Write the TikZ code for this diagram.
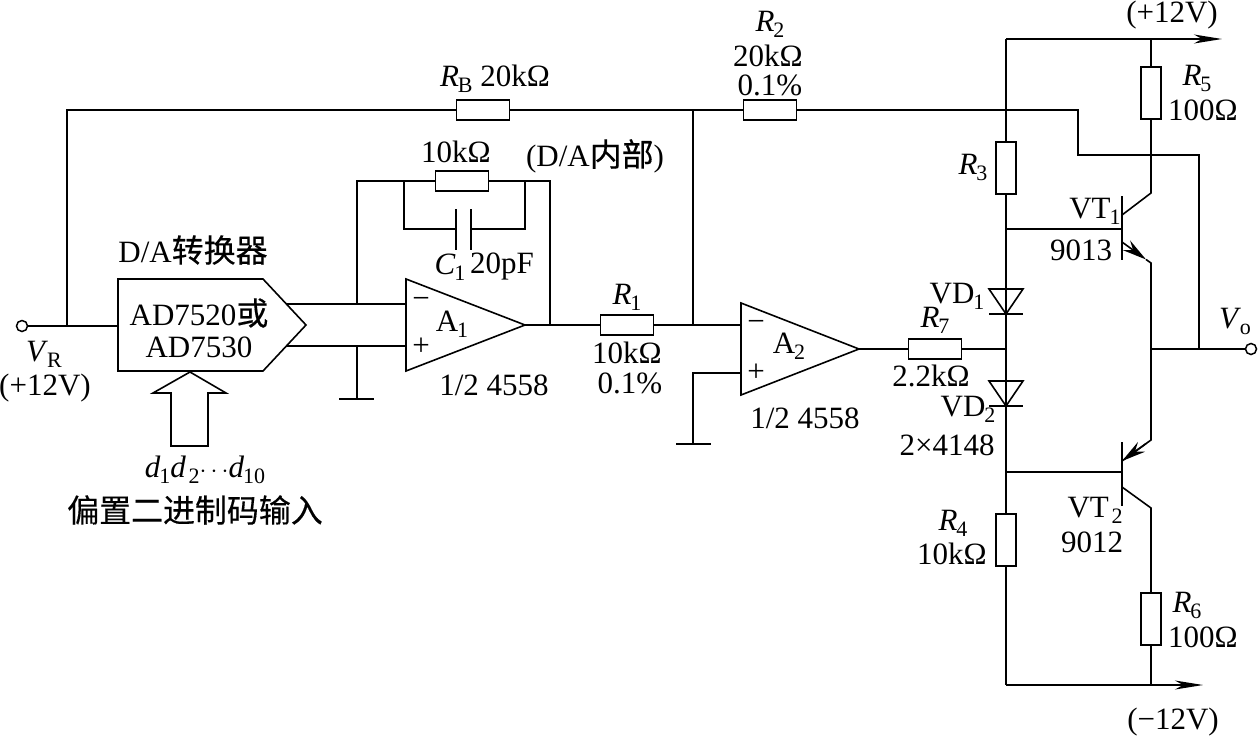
\documentclass[tikz,border=0pt]{standalone}
\usepackage{fontspec}
\setmainfont{Liberation Serif}
\newfontfamily\cjk[Scale=1.03,FakeBold=0.4]{Noto Sans CJK SC}
\usetikzlibrary{arrows.meta}
\newcommand{\Sb}[2]{\textit{#1}\kern-1pt\raisebox{-6pt}{\fontsize{22}{23}\selectfont #2}}
\newcommand{\Rb}[2]{#1\kern-1pt\raisebox{-6pt}{\fontsize{22}{23}\selectfont #2}}
\tikzset{
  wire/.style={line width=1.6pt,line join=miter},
  hres/.style={draw,line width=1.3pt,rectangle,inner sep=0pt,minimum width=53pt,minimum height=20pt},
  vres/.style={draw,line width=1.3pt,rectangle,inner sep=0pt,minimum width=20pt,minimum height=52pt},
  term/.style={draw,line width=1.5pt,circle,inner sep=0pt,minimum size=11pt,fill=white},
  lab/.style={inner sep=0pt,font=\fontsize{31}{32}\selectfont},
  rail/.style={wire,-{Stealth[length=28pt,width=9pt,inset=8pt]}},
  emit/.style={wire,-{Stealth[length=24pt,width=12pt,inset=8pt]}},
}
\begin{document}
\begin{tikzpicture}[x=1pt,y=-1pt]
\useasboundingbox (0,0) rectangle (1258,739);
% resistors
\node[hres] (rb) at (483,110) {};
\node[hres] (r2) at (770,110) {};
\node[hres] (rf) at (462,181) {};
\node[hres] (r1) at (627,325) {};
\node[hres] (r7) at (935,349) {};
\node[vres] (r3) at (1006,168) {};
\node[vres] (r5) at (1151,93) {};
\node[vres] (r4) at (1006,540) {};
\node[vres] (r6) at (1151,619) {};
\node[term] (vr) at (22,326) {};
\node[term] (vo) at (1251,349) {};
% junctions
\coordinate (j67a) at (67,326);
\coordinate (j67b) at (67,110);
\coordinate (j693) at (693,110);
\coordinate (j693b) at (693,325);
\coordinate (topl) at (1006,39);
\coordinate (topr) at (1222,39);
\coordinate (j1151t) at (1151,39);
\coordinate (botl) at (1006,685);
\coordinate (botr) at (1203,685);
\coordinate (j1151b) at (1151,685);
% D/A
\coordinate (da1) at (118,279);
\coordinate (da2) at (263,279);
\coordinate (da3) at (306,325);
\coordinate (da4) at (263,371);
\coordinate (da5) at (118,371);
\coordinate (daoa) at (287,304);
\coordinate (daob) at (287,346);
\draw[wire] (da1)--(da2)--(da3)--(da4)--(da5)--cycle;
% big arrow
\draw[wire] (190,372)--(226,393)--(208,393)--(208,446)--(171,446)--(171,393)--(153,393)--cycle;
% op amps
\coordinate (a1t) at (406,279);
\coordinate (a1b) at (406,371);
\coordinate (a1o) at (525,325);
\coordinate (a1m) at (406,304);
\coordinate (a1p) at (406,346);
\draw[wire] (a1t)--(a1o)--(a1b)--cycle;
\coordinate (a2t) at (741,303);
\coordinate (a2b) at (741,395);
\coordinate (a2o) at (859,349);
\coordinate (a2m) at (741,325);
\coordinate (a2p) at (741,373);
\draw[wire] (a2t)--(a2o)--(a2b)--cycle;
% left wiring
\draw[wire] (vr)--(j67a)--(118,326);
\draw[wire] (j67a)--(j67b)--(rb.west);
\draw[wire] (rb.east)--(j693)--(r2.west);
\draw[wire] (r2.east)--(1078,110)--(1078,155)--(1199,155)--(1199,349);
\draw[wire] (j693)--(j693b);
\draw[wire] (daoa)--(a1m);
\draw[wire] (daob)--(a1p);
\draw[wire] (357,304)--(357,181)--(rf.west);
\draw[wire] (rf.east)--(550,181)--(550,325);
\draw[wire] (357,346)--(357,399);
\draw[wire] (339,399)--(374,399);
% capacitor
\draw[wire] (404,181)--(404,229)--(456,229);
\draw[wire] (471,229)--(525,229)--(525,181);
\draw[wire] (456,209)--(456,250);
\draw[wire] (471,209)--(471,250);
% middle
\draw[wire] (a1o)--(r1.west);
\draw[wire] (r1.east)--(a2m);
\draw[wire] (a2p)--(693,373)--(693,444);
\draw[wire] (676,444)--(711,444);
\draw[wire] (a2o)--(r7.west);
\draw[wire] (r7.east)--(1006,349);
% supply column
\draw[rail] (topl)--(topr);
\draw[wire] (topl)--(r3.north);
\draw[wire] (r3.south)--(r4.north);
\draw[wire] (r4.south)--(botl);
\draw[rail] (botl)--(botr);
\draw[wire] (j1151t)--(r5.north);
\draw[wire] (r5.south)--(1151,193)--(1122,215);
\draw[wire] (1006,229)--(1122,229);
\draw[wire] (1122,196)--(1122,260);
\draw[emit] (1122,242)--(1146,259.5);
\draw[wire] (1146,259.5)--(1151,263)--(1151,440)--(1122,461);
\draw[emit] (1146,443.6)--(1122,461);
\draw[wire] (1122,442)--(1122,506);
\draw[wire] (1006,472)--(1122,472);
\draw[wire] (1122,487)--(1151,508)--(r6.north);
\draw[wire] (r6.south)--(j1151b);
\draw[wire] (1151,349)--(vo);
% diodes
\draw[wire] (989,289)--(1023,289)--(1006,314)--cycle;
\draw[wire] (989,314)--(1023,314);
\draw[wire] (989,381)--(1023,381)--(1006,406)--cycle;
\draw[wire] (989,406)--(1023,406);
% labels
\node[lab] (t1) at (1172,15) {(+12V)};
\node[lab] (t2) at (770,24) {\Sb{R}{2}};
\node[lab] (t3) at (768,56) {20kΩ};
\node[lab] (t4) at (770,85) {0.1\%};
\node[lab] (t5) at (495,79) {\Sb{R}{B} 20kΩ};
\node[lab] (t6) at (456,152) {10kΩ};
\node[lab] (t7) at (595,156) {(D/A{\cjk 内部})};
\node[lab] (t8) at (1197,78) {\Sb{R}{5}};
\node[lab] (t9) at (1203,110) {100Ω};
\node[lab] (t10) at (973,167) {\Sb{R}{3}};
\node[lab] (t11) at (1095,211) {\Rb{VT}{1}};
\node[lab] (t12) at (1081,250) {9013};
\node[lab] (t13) at (193,250) {D/A{\cjk 转换器}};
\node[lab] (t14) at (199,313) {AD7520{\cjk 或}};
\node[lab] (t15) at (199,347) {AD7530};
\node[lab] (t16) at (452,324) {\Rb{A}{1}};
\node[lab] (t17) at (789,346) {\Rb{A}{2}};
\node[lab] (t18) at (421,303) {−};
\node[lab] (t19) at (421,347) {+};
\node[lab] (t20) at (756,326) {−};
\node[lab] (t21) at (756,373) {+};
\node[lab] (t22) at (450,267) {\Sb{C}{1}};
\node[lab] (t23) at (502,266) {20pF};
\node[lab] (t24) at (494,385) {1/2 4558};
\node[lab] (t25) at (627,297) {\Sb{R}{1}};
\node[lab] (t26) at (627,353) {10kΩ};
\node[lab] (t27) at (630,383) {0.1\%};
\node[lab] (t28) at (957,296) {\Rb{VD}{1}};
\node[lab] (t29) at (935,320) {\Sb{R}{7}};
\node[lab] (t30) at (968,409) {\Rb{VD}{2}};
\node[lab] (t31) at (931,376) {2.2kΩ};
\node[lab] (t32) at (947,445) {2×4148};
\node[lab] (t33) at (805,418) {1/2 4558};
\node[lab] (t34) at (1235,321) {\Sb{V}{o}};
\node[lab] (t35) at (44,354) {\Sb{V}{R}};
\node[lab] (t36) at (45,388) {(+12V)};
\node[lab] (t37) at (205,470) {\Sb{d}{1}\Sb{d}{\,2}$\cdots$\Sb{d}{10}};
\node[lab] (t38) at (195,510) {\cjk 偏置二进制码输入};
\node[lab] (t39) at (1095,510) {\Rb{VT}{\,2}};
\node[lab] (t40) at (1092,542) {9012};
\node[lab] (t41) at (953,523) {\Sb{R}{4}};
\node[lab] (t42) at (952,554) {10kΩ};
\node[lab] (t43) at (1187,605) {\Sb{R}{6}};
\node[lab] (t44) at (1203,637) {100Ω};
\node[lab] (t45) at (1173,722) {(−12V)};
\end{tikzpicture}
\end{document}
